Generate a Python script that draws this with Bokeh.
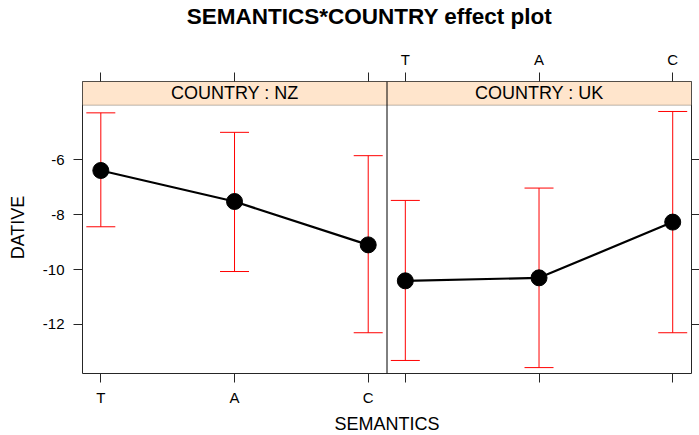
from bokeh.embed import file_html
from bokeh.resources import INLINE
from bokeh.plotting import figure
from bokeh.models import (ColumnDataSource, FixedTicker, LinearAxis, Range1d,
                          BoxAnnotation, Span, Whisker, TeeHead, Label)

# ---- data: effect estimates with confidence limits ----
semantics = ["T", "A", "C"]
countries = ["NZ", "UK"]

nz_fit = [-6.39, -7.52, -9.10]
nz_lower = [-8.44, -10.07, -12.30]
nz_upper = [-4.29, -5.00, -5.85]

uk_fit = [-10.41, -10.30, -8.27]
uk_lower = [-13.31, -13.57, -12.30]
uk_upper = [-7.48, -7.03, -4.24]

y_ticks = [-6, -8, -10, -12]

TITLE = "SEMANTICS*COUNTRY effect plot"

# ---- panel geometry (two side-by-side panels on one shared frame) ----
PAD = 0.137                      # space between panel edge and outer category
PANEL_W = 2 + 2 * PAD + 0.0035   # width of one panel in x units
X0 = 1 - PAD
DIVIDER = X0 + PANEL_W
Y_MIN, Y_MAX = -13.785, -3.148   # frame extent, strip included
STRIP_BOTTOM = -4.011
TITLE_X = 3.01                   # horizontal anchor of the main title

FONT = "Liberation Sans"
AXIS_COLOR = "#262626"

p = figure(frame_width=609, frame_height=292,
           min_border_left=82, min_border_right=8,
           min_border_top=81, min_border_bottom=62,
           x_range=Range1d(X0, X0 + 2 * PANEL_W),
           y_range=Range1d(Y_MIN, Y_MAX),
           x_axis_location=None, y_axis_location=None,
           toolbar_location=None, output_backend="svg",
           background_fill_color="white", border_fill_color="white")
p.grid.visible = False
p.outline_line_color = AXIS_COLOR
p.outline_line_width = 1

# strip (panel header) background
p.add_layout(BoxAnnotation(bottom=STRIP_BOTTOM, fill_color="#ffe5cc", fill_alpha=1,
                           line_color=AXIS_COLOR, line_width=1, level="underlay"))
# vertical divider between panels
p.add_layout(Span(location=DIVIDER, dimension="height",
                  line_color="black", line_width=1))

# ---- per-panel marks ----
all_x = []
for k, (country, fit, lo, hi) in enumerate([("NZ", nz_fit, nz_lower, nz_upper),
                                             ("UK", uk_fit, uk_lower, uk_upper)]):
    xs = [i + 1 + k * PANEL_W for i in range(len(semantics))]
    all_x.append(xs)
    src = ColumnDataSource(dict(x=xs, fit=fit, lower=lo, upper=hi))
    p.add_layout(Whisker(base="x", lower="lower", upper="upper", source=src,
                         dimension="height", line_color="#ff0000", line_width=1,
                         upper_head=TeeHead(size=29, line_color="#ff0000", line_width=1),
                         lower_head=TeeHead(size=29, line_color="#ff0000", line_width=1)))
    p.line("x", "fit", source=src, line_color="black", line_width=2.2)
    p.scatter("x", "fit", source=src, size=16, fill_color="black",
              line_color="black")
    p.add_layout(Label(x=X0 + k * PANEL_W + PANEL_W / 2, y=(STRIP_BOTTOM + Y_MAX) / 2,
                       text=f"COUNTRY : {country}", text_font=FONT,
                       text_font_size="18px", text_color="black",
                       text_align="center", text_baseline="middle"))

nz_x, uk_x = all_x
tick_x = nz_x + uk_x


def make_axis(ticks, overrides, **kw):
    ax = LinearAxis(ticker=FixedTicker(ticks=ticks), major_label_overrides=overrides,
                    axis_line_color=None, major_tick_line_color=AXIS_COLOR,
                    major_tick_in=0, major_tick_out=9, minor_tick_line_color=None,
                    major_label_text_font=FONT, major_label_text_font_size="15px",
                    major_label_text_color="black",
                    axis_label_text_font=FONT, axis_label_text_font_size="18px",
                    axis_label_text_font_style="normal", axis_label_text_color="black",
                    **kw)
    return ax


# bottom: labels under the NZ panel, bare ticks under UK
bottom_over = {x: s for x, s in zip(nz_x, semantics)}
bottom_over.update({x: "" for x in uk_x})
p.add_layout(make_axis(tick_x, bottom_over, major_label_standoff=6,
                       axis_label="SEMANTICS", axis_label_standoff=5), "below")

# top: bare ticks over NZ, labels over UK
top_over = {x: "" for x in nz_x}
top_over.update({x: s for x, s in zip(uk_x, semantics)})
p.add_layout(make_axis(tick_x, top_over, major_label_standoff=5), "above")

# main title, stacked above the top axis
title_ax = make_axis([TITLE_X], {TITLE_X: TITLE}, major_label_standoff=19)
title_ax.major_tick_out = 0
title_ax.major_tick_line_color = None
title_ax.major_label_text_font_size = "22.5px"
title_ax.major_label_text_font_style = "bold"
p.add_layout(title_ax, "above")

# left: numeric labels
p.add_layout(make_axis(y_ticks, {v: str(v) for v in y_ticks},
                       major_label_standoff=9,
                       axis_label="DATIVE", axis_label_standoff=12), "left")

# right: bare ticks
right_ax = make_axis(y_ticks, {v: "" for v in y_ticks}, major_label_standoff=0)
right_ax.major_tick_out = 8
p.add_layout(right_ax, "right")

open("out.html", "w").write(file_html(p, INLINE))
